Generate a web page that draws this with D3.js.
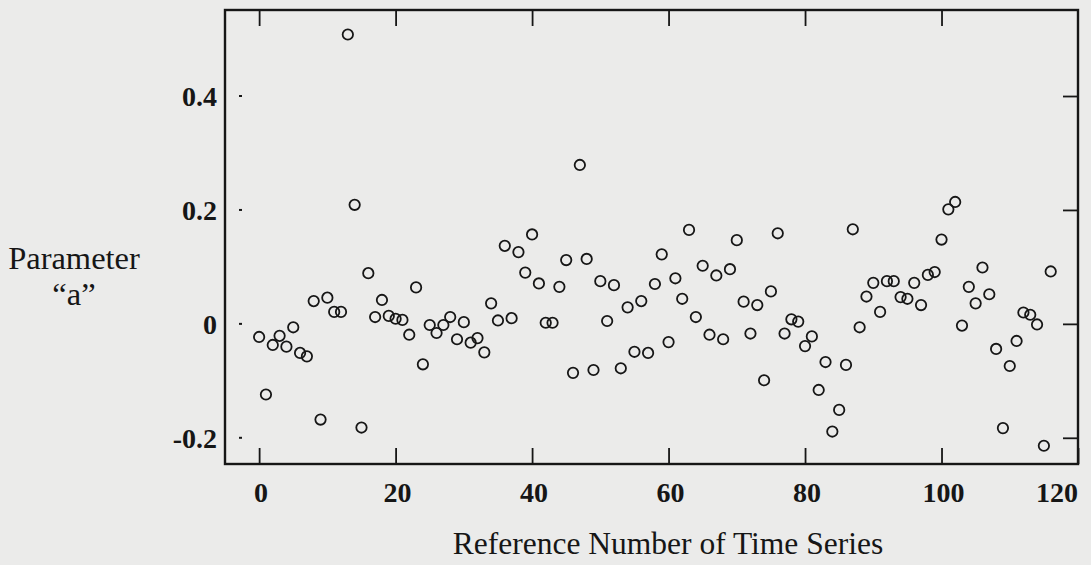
<!DOCTYPE html>
<html>
<head>
<meta charset="utf-8">
<script src="https://cdn.jsdelivr.net/npm/d3@7"></script>
<style>
  html, body { margin: 0; padding: 0; background: #ebebea; }
  svg { display: block; }
</style>
</head>
<body>
<svg id="chart" width="1091" height="565"></svg>
<script>
// Reference number of time series (x) and parameter "a" (y)
const seriesIndex = [
  0,1,2,3,4,5,6,7,8,9,10,11,12,13,14,15,16,17,18,19,
  20,21,22,23,24,25,26,27,28,29,30,31,32,33,34,35,36,37,38,39,
  40,41,42,43,44,45,46,47,48,49,50,51,52,53,54,55,56,57,58,59,
  60,61,62,63,64,65,66,67,68,69,70,71,72,73,74,75,76,77,78,79,
  80,81,82,83,84,85,86,87,88,89,90,91,92,93,94,95,96,97,98,99,
  100,101,102,103,104,105,106,107,108,109,110,111,112,113,114,115,116
];
const paramA = [
  -0.023,-0.124,-0.037,-0.021,-0.040,-0.006,-0.051,-0.057,0.040,-0.168,
  0.046,0.021,0.021,0.508,0.209,-0.182,0.089,0.012,0.042,0.014,
  0.009,0.007,-0.019,0.064,-0.071,-0.002,-0.016,-0.002,0.012,-0.027,
  0.003,-0.033,-0.025,-0.050,0.036,0.006,0.137,0.010,0.126,0.090,
  0.157,0.071,0.002,0.002,0.065,0.112,-0.086,0.279,0.114,-0.081,
  0.075,0.005,0.068,-0.078,0.029,-0.049,0.040,-0.051,0.070,0.122,
  -0.032,0.080,0.044,0.165,0.012,0.102,-0.019,0.085,-0.027,0.096,
  0.147,0.039,-0.017,0.033,-0.099,0.057,0.159,-0.017,0.008,0.004,
  -0.039,-0.022,-0.116,-0.067,-0.189,-0.151,-0.072,0.166,-0.006,0.048,
  0.072,0.021,0.075,0.075,0.047,0.044,0.072,0.033,0.086,0.091,
  0.148,0.201,0.214,-0.003,0.065,0.036,0.099,0.052,-0.044,-0.183,
  -0.074,-0.030,0.020,0.016,-0.001,-0.214,0.092
];
const xTicks = [0, 20, 40, 60, 80, 100, 120];
const yTicks = [-0.2, 0, 0.2, 0.4];
const yTickLabels = ["-0.2", "0", "0.2", "0.4"];
const xTitle = "Reference Number of Time Series";
const yTitle = ["Parameter", "\u201Ca\u201D"];

const svg = d3.select("#chart");
const ink = "#161616";
const serif = "'Liberation Serif', 'Times New Roman', Times, serif";

const mLeft = 225, mRight = 1078, mTop = 10, mBottom = 464;
const x = d3.scaleLinear().domain([-5, 120]).range([mLeft, mRight]);
const y = d3.scaleLinear().domain([-0.246, 0.551]).range([mBottom, mTop]);

// bottom axis: inward ticks
const xAxisB = d3.axisBottom(x).tickValues(xTicks).tickSize(-16).tickFormat("");
const gB = svg.append("g").attr("transform", `translate(0,${mBottom})`).call(xAxisB);
// top axis inward ticks
const xAxisT = d3.axisTop(x).tickValues(xTicks.slice(0, -1)).tickSize(-16).tickFormat("");
const gT = svg.append("g").attr("transform", `translate(0,${mTop})`).call(xAxisT);
// right axis inward ticks
const yAxisR = d3.axisRight(y).tickValues(yTicks).tickSize(-15).tickFormat("");
const gR = svg.append("g").attr("transform", `translate(${mRight},0)`).call(yAxisR);
[gB, gT, gR].forEach(g => {
  g.select(".domain").remove();
  g.selectAll(".tick line").attr("stroke", ink).attr("stroke-width", 1.8);
});

// left tiny tick marks (inside)
svg.append("g").selectAll("line").data(yTicks).join("line")
  .attr("x1", mLeft + 14).attr("x2", mLeft + 17)
  .attr("y1", d => y(d)).attr("y2", d => y(d))
  .attr("stroke", ink).attr("stroke-width", 2);

// frame
svg.append("rect")
  .attr("x", mLeft).attr("y", mTop)
  .attr("width", mRight - mLeft).attr("height", mBottom - mTop)
  .attr("fill", "none").attr("stroke", ink).attr("stroke-width", 2.4);

// x tick labels
svg.append("g").selectAll("text").data(xTicks).join("text")
  .attr("x", (d, i) => i === xTicks.length - 1 ? mRight : x(d) + 2)
  .attr("y", 502)
  .attr("text-anchor", (d, i) => i === xTicks.length - 1 ? "end" : "middle")
  .attr("font-family", serif).attr("font-weight", "bold").attr("font-size", 28)
  .attr("fill", ink)
  .text(d => d);

// y tick labels
svg.append("g").selectAll("text").data(yTicks).join("text")
  .attr("x", mLeft - 8)
  .attr("y", d => y(d))
  .attr("dy", "0.36em")
  .attr("text-anchor", "end")
  .attr("font-family", serif).attr("font-weight", "bold").attr("font-size", 28)
  .attr("fill", ink)
  .text((d, i) => yTickLabels[i]);

// axis titles
svg.append("text")
  .attr("x", 668).attr("y", 554)
  .attr("text-anchor", "middle")
  .attr("font-family", serif).attr("font-size", 31.5)
  .attr("fill", ink)
  .text(xTitle);

svg.append("g").selectAll("text").data(yTitle).join("text")
  .attr("x", 74).attr("y", (d, i) => 269 + i * 36)
  .attr("text-anchor", "middle")
  .attr("font-family", serif).attr("font-size", 32.5)
  .attr("fill", ink)
  .text(d => d);

// points
svg.append("g").selectAll("circle").data(seriesIndex).join("circle")
  .attr("cx", (d) => x(d))
  .attr("cy", (d, i) => y(paramA[i]))
  .attr("r", 5.2)
  .attr("fill", "none")
  .attr("stroke", ink)
  .attr("stroke-width", 1.8);
</script>
</body>
</html>
